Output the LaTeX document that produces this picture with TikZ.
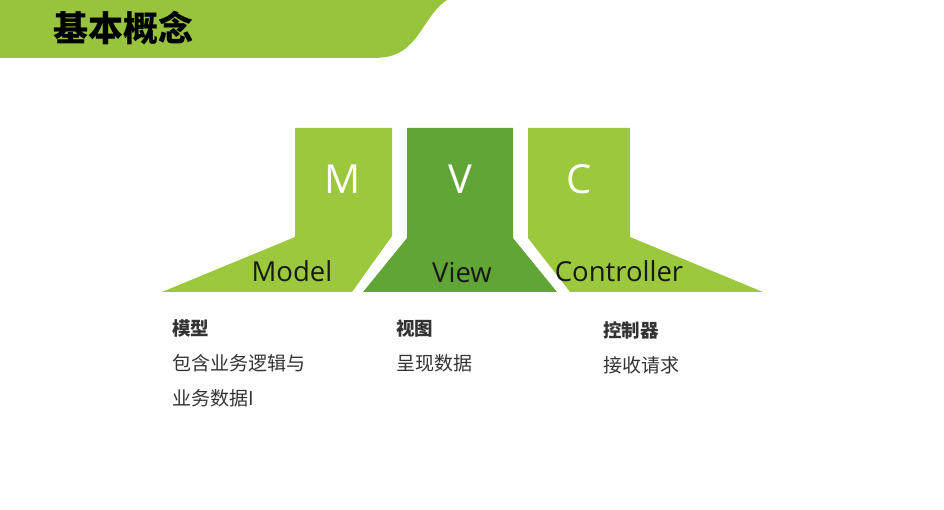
\documentclass[tikz,border=0pt]{standalone}
\usepackage{fontspec}
\setmainfont{Open Sans}
\newfontfamily\cjk{Noto Sans CJK SC}
\definecolor{lgreen}{HTML}{9BC83C}
\definecolor{hgreen}{HTML}{98C43D}
\definecolor{dgreen}{HTML}{62A537}
\definecolor{bodytxt}{HTML}{333333}
\tikzset{
  letter/.style={text=white,font=\fontsize{40}{40}\selectfont,anchor=base,inner sep=0pt},
  word/.style={text=black!90,font=\fontsize{27.5}{28}\selectfont,anchor=base,inner sep=0pt},
  head/.style={text=bodytxt,font=\cjk\bfseries\fontsize{18.5}{19}\selectfont,anchor=west,inner sep=0pt},
  body/.style={text=bodytxt,font=\cjk\fontsize{19}{19}\selectfont,anchor=west,inner sep=0pt},
}
\begin{document}
\begin{tikzpicture}[x=1pt,y=-1pt]
\useasboundingbox (0,0) rectangle (944,510);
% header band
\fill[hgreen] (0,0) -- (447,0) .. controls (428,12) and (422,38) .. (402,51) .. controls (394,56) and (386,58) .. (372,58) -- (0,58) -- cycle;
\node[text=black,font=\cjk\bfseries\fontsize{35}{35}\selectfont,anchor=west,inner sep=0pt] (title) at (53,28) {基本概念};
% MVC shapes
\fill[lgreen] (295,128) -- (392,128) -- (392,236) -- (352,292) -- (162,292) -- (295,237) -- cycle;
\fill[dgreen] (407,128) -- (513,128) -- (513,238) -- (557,292) -- (363,292) -- (407,238) -- cycle;
\fill[lgreen] (528,128) -- (630,128) -- (630,237) -- (763,292) -- (570,292) -- (528,238) -- cycle;
% letters
\node[letter] (m) at (343,194) {M};
\node[letter] (v) at (460,194) {V};
\node[letter] (c) at (579,194) {C};
\node[word] (model) at (292,282) {Model};
\node[word] (view) at (462,283) {View};
\node[word] (ctrl) at (619,282) {Controller};
% descriptions
\node[head] (mh) at (172,328) {模型};
\node[body] (mb1) at (172,363) {包含业务逻辑与};
\node[body] (mb2) at (172,398) {业务数据I};
\node[head] (vh) at (396,328) {视图};
\node[body] (vb) at (396,363) {呈现数据};
\node[head] (ch) at (603,330) {控制器};
\node[body] (cb) at (603,365) {接收请求};
\end{tikzpicture}
\end{document}
